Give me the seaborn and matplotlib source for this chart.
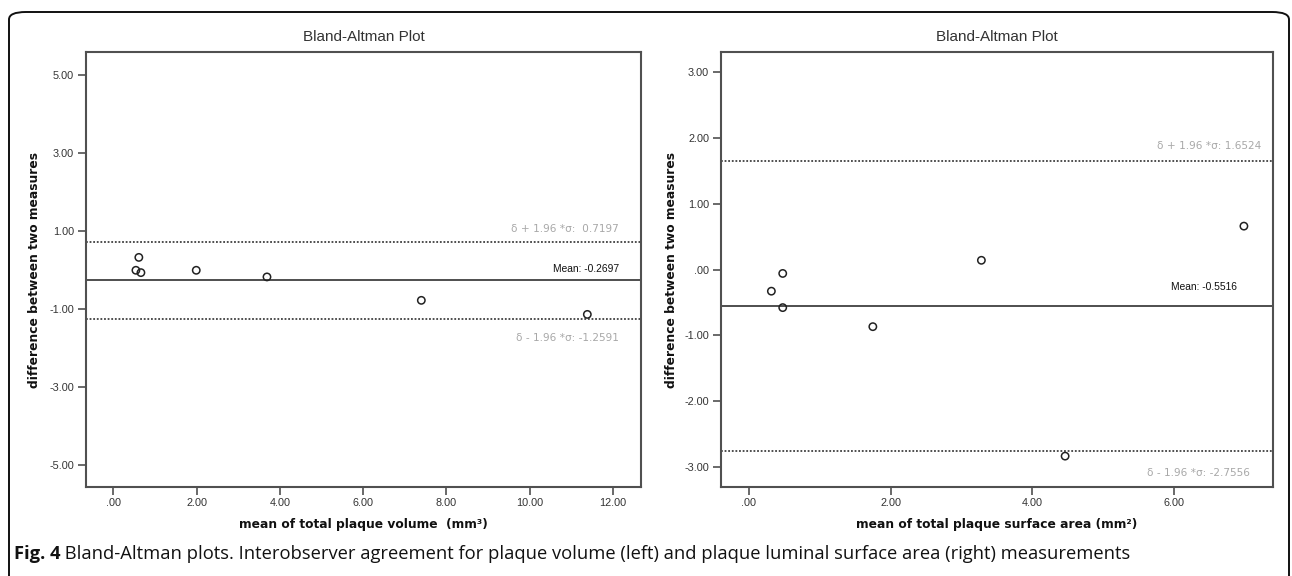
import matplotlib
matplotlib.use("Agg")
import matplotlib.pyplot as plt
import seaborn as sns
import pandas as pd
from matplotlib.patches import FancyBboxPatch
from matplotlib.transforms import offset_copy

# ---------------- data ----------------
vol_mean = [0.61, 0.54, 0.66, 1.99, 3.69, 7.40, 11.39]
vol_diff = [0.32, -0.01, -0.07, -0.01, -0.18, -0.78, -1.14]
vol_stats = [0.7197, -0.2697, -1.2591]          # upper LoA, mean, lower LoA
vol_stat_labels = ["δ + 1.96 *σ:  0.7197", "Mean: -0.2697", "δ - 1.96 *σ: -1.2591"]
vol_xticks = [0, 2, 4, 6, 8, 10, 12]
vol_xticklabels = [".00", "2.00", "4.00", "6.00", "8.00", "10.00", "12.00"]
vol_yticks = [5, 3, 1, -1, -3, -5]
vol_yticklabels = ["5.00", "3.00", "1.00", "-1.00", "-3.00", "-5.00"]

area_mean = [0.32, 0.48, 0.48, 1.75, 3.28, 6.98, 4.46]
area_diff = [-0.33, -0.06, -0.58, -0.87, 0.14, 0.66, -2.84]
area_stats = [1.6524, -0.5516, -2.7556]
area_stat_labels = ["δ + 1.96 *σ: 1.6524", "Mean: -0.5516", "δ - 1.96 *σ: -2.7556"]
area_xticks = [0, 2, 4, 6]
area_xticklabels = [".00", "2.00", "4.00", "6.00"]
area_yticks = [3, 2, 1, 0, -1, -2, -3]
area_yticklabels = ["3.00", "2.00", "1.00", ".00", "-1.00", "-2.00", "-3.00"]

title = "Bland-Altman Plot"
ylab = "difference between two measures"
xlab_vol = "mean of total plaque volume  (mm³)"
xlab_area = "mean of total plaque surface area (mm²)"
caption_bold = "Fig. 4"
caption_text = " Bland-Altman plots. Interobserver agreement for plaque volume (left) and plaque luminal surface area (right) measurements"

# ---------------- style ----------------
sns.set_style("white")
plt.rcParams["font.family"] = ["Liberation Sans", "DejaVu Sans"]

W, H = 1292, 576
fig = plt.figure(figsize=(W / 100, H / 100), dpi=100)


def px_axes(x0, x1, ytop, ybot):
    return fig.add_axes([x0 / W, 1 - ybot / H, (x1 - x0) / W, (ybot - ytop) / H])


ax1 = px_axes(86, 641, 52, 487)
ax2 = px_axes(721, 1273, 52, 487)

spine_col = "#505050"
line_col = "#404040"
gray_txt = "#a8a8a8"


def px_text(ax, x_px_from_right, y, s, dy_px, va, color, fs):
    # x given as pixels left of the right spine, y in data, offset dy in pixels
    tr = ax.get_yaxis_transform()
    tr = offset_copy(tr, fig=fig, x=-x_px_from_right, y=dy_px, units="dots")
    ax.text(1.0, y, s, transform=tr, ha="right", va=va, fontsize=fs, color=color,
            family=["DejaVu Sans"] if "δ" in s else ["Liberation Sans"])


def panel(ax, xm, yd, stats, labels, xt, xtl, yt, ytl, xlim, ylim, xlab,
          lab_pos, ylab_x):
    df = pd.DataFrame({"m": xm, "d": yd})
    sns.scatterplot(data=df, x="m", y="d", ax=ax, marker="o", s=28,
                    facecolor="none", edgecolor="#222222", linewidth=1.1, zorder=3)
    up, mn, lo = stats
    ax.axhline(up, color=line_col, lw=1.3, ls=(0, (1.0, 1.0)), zorder=2)
    ax.axhline(lo, color=line_col, lw=1.3, ls=(0, (1.0, 1.0)), zorder=2)
    ax.axhline(mn, color=line_col, lw=1.3, zorder=2)
    ax.set_xlim(*xlim)
    ax.set_ylim(*ylim)
    ax.set_xticks(xt)
    ax.set_xticklabels(xtl)
    ax.set_yticks(yt)
    ax.set_yticklabels(ytl)
    ax.tick_params(axis="both", which="both", direction="out", length=5.5, width=1.2,
                   color=spine_col, labelsize=7.8, labelcolor="#333333", pad=3,
                   left=True, bottom=True)
    ax.tick_params(axis="x", pad=2.5)
    for sp in ax.spines.values():
        sp.set_visible(True)
        sp.set_color(spine_col)
        sp.set_linewidth(1.5)
    ax.set_xlabel(xlab, fontsize=8.8, fontweight="bold", family=["DejaVu Sans"],
                  color="#111111", labelpad=7)
    ax.set_ylabel(ylab, fontsize=8.8, fontweight="bold", family=["DejaVu Sans"],
                  color="#111111")
    ax.yaxis.set_label_coords(ylab_x, 0.5)
    ax.set_title(title, fontsize=11, color="#333333", pad=8)
    (ux, uy), (mx, my), (lx, ly) = lab_pos
    px_text(ax, ux, up, labels[0], uy, "center", gray_txt, 7.6)
    px_text(ax, mx, mn, labels[1], my, "center", "#111111", 7.4)
    px_text(ax, lx, lo, labels[2], ly, "center", gray_txt, 7.6)


panel(ax1, vol_mean, vol_diff, vol_stats, vol_stat_labels, vol_xticks, vol_xticklabels,
      vol_yticks, vol_yticklabels, (-0.66, 12.68), (-5.56, 5.58), xlab_vol,
      [(22, 13), (22, 11), (22, -19)], -0.081)
panel(ax2, area_mean, area_diff, area_stats, area_stat_labels, area_xticks,
      area_xticklabels, area_yticks, area_yticklabels, (-0.39, 7.39), (-3.31, 3.31),
      xlab_area, [(12, 15), (36, 19), (23, -22)], -0.078)

# rounded outer frame
frame = FancyBboxPatch((9 / W, -0.05), (1289 - 9) / W, 1.05 - 12 / H,
                       boxstyle="round,pad=0,rounding_size=0.013",
                       transform=fig.transFigure, fill=False, ec="#111111", lw=1.4,
                       clip_on=False)
fig.patches.append(frame)

# caption
cap_font = ["Open Sans", "DejaVu Sans"]
t = fig.text(14 / W, 1 - 554 / H, caption_bold, fontsize=13.2, fontweight="bold",
             family=cap_font, va="center", ha="left", color="#111111")
fig.canvas.draw()
bb = t.get_window_extent()
fig.text(bb.x1 / W, 1 - 554 / H, caption_text, fontsize=13.2, family=cap_font,
         va="center", ha="left", color="#111111")

fig.savefig("out.png", dpi=100)
